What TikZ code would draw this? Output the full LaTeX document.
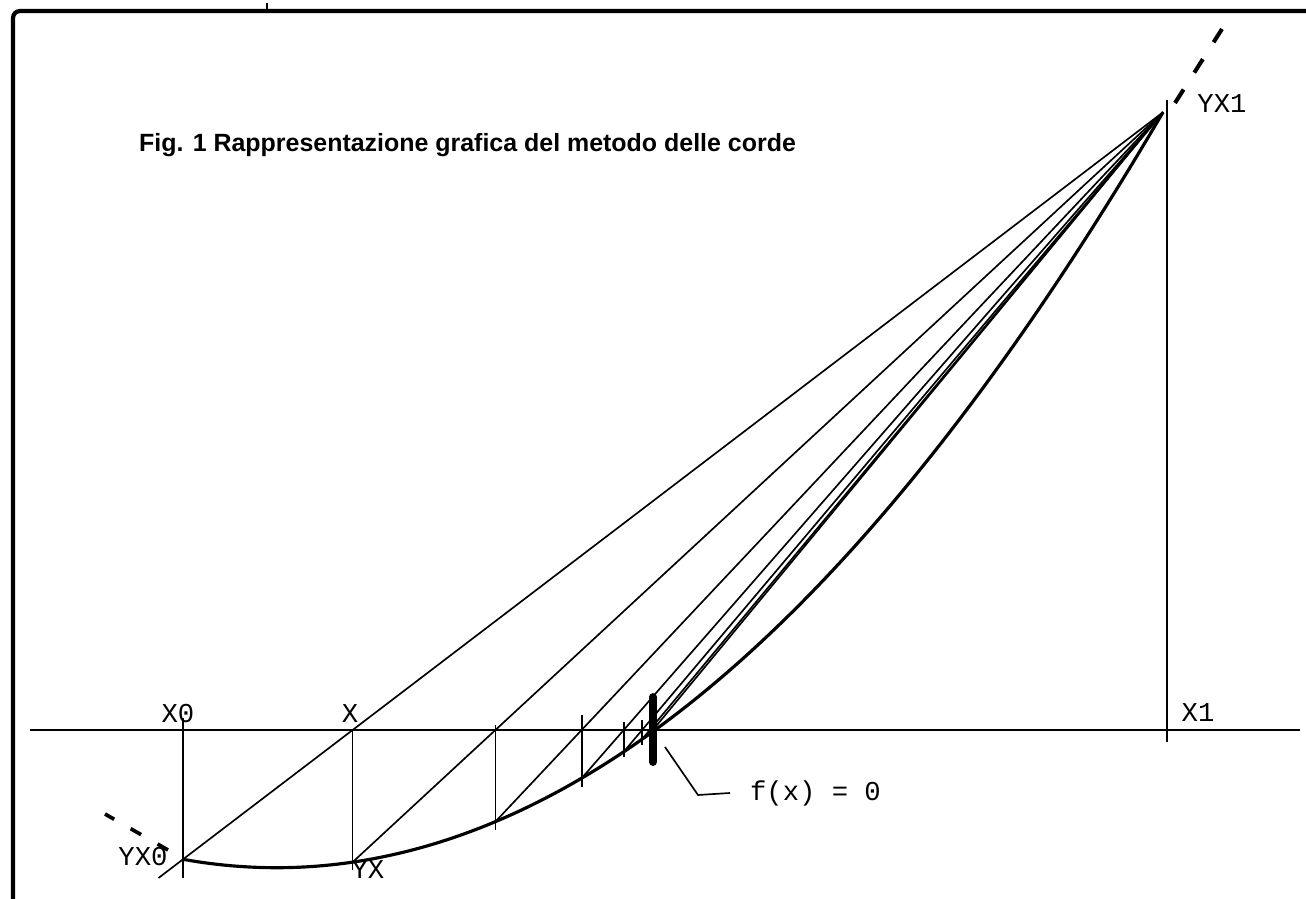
\documentclass[tikz,border=0pt]{standalone}
\usepackage{fontspec}
\setmainfont{Liberation Sans}
\newfontfamily\labfont{Liberation Mono}
\usetikzlibrary{calc}

\begin{document}
\begin{tikzpicture}[x=0.02cm, y=-0.02cm,
  declare function={fc(\x)=730-0.00095702*(\x-655)*(\x+102);},
  chord/.style={line width=0.95pt},
  curve/.style={line width=1.8pt},
  lab/.style={font=\labfont\fontsize{15.5}{16}\selectfont, inner sep=1pt}]
\useasboundingbox (0,0) rectangle (1306,899);
% frame
\draw[line width=2.4pt, rounded corners=4pt] (13,899) -- (13,11) -- (1306,11);
\draw[line width=0.8pt] (267,3) -- (267,11);
\node[anchor=base west, font=\bfseries\fontsize{14.2}{16}\selectfont] (title) at (133,151)
  {Fig. 1 Rappresentazione grafica del metodo delle corde};
% axis
\draw[line width=1.2pt] (30,730) -- (1300,730);
% points of the method
\coordinate (yx1) at (1163,{fc(1163)});
\foreach \xk [count=\i] in {183,352.6,495.4,581.7,623.7,642.1,649.8}
  \coordinate (p\i) at (\xk,{fc(\xk)});
% verticals
\draw[chord] (183,718) -- (183,878);
\draw[chord] (352.6,730) -- (352.6,870);
\draw[chord] (495.4,725) -- (495.4,830);
\draw[chord] (581.7,715) -- (581.7,787);
\draw[chord] (623.7,722) -- (623.7,757);
\draw[line width=1.4pt] (642.1,720) -- (642.1,745);
\draw[chord] (1167,100) -- (1167,742);
% chords
\draw[chord] (yx1) -- ($(yx1)!1.025!(p1)$);
\foreach \i in {2,...,7}
  \draw[chord] (p\i) -- (yx1);
% curve
\draw[curve] plot[domain=183:1163, samples=120] (\x,{fc(\x)});
\draw[line width=2.3pt, dash pattern=on 0.32cm off 0.4cm] (1175,103) -- (1222,29);
\draw[line width=2.1pt, dash pattern=on 0.24cm off 0.38cm] (168,850) -- (105,814);
% root
\draw[line width=4.5pt, line cap=round] (653,697) -- (653,762);
\coordinate (lead) at (665,747);
% labels
\node[lab] (x0) at (178,714) {X0};
\node[lab] (xx) at (350,714) {X};
\node[lab] (x1) at (1198,713) {X1};
\node[lab] (yx0l) at (143,857) {YX0};
\node[lab] (yxl) at (368,870) {YX};
\node[lab] (yx1l) at (1222,104) {YX1};
\node[lab, anchor=west] (fx) at (748,793) {f(x) = 0};
\draw[chord] (lead) -- (698,795) -- ([xshift=-0.36cm]fx.west);
\end{tikzpicture}
\end{document}
